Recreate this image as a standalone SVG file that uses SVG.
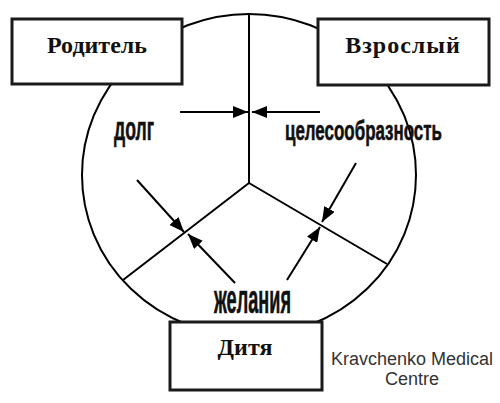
<svg xmlns="http://www.w3.org/2000/svg" width="500" height="403" viewBox="0 0 500 403">
<style>
.box{fill:#fff;stroke:#1a1a1a;stroke-width:3}
.ln{fill:none;stroke:#000;stroke-width:2}
.ar{fill:none;stroke:#000;stroke-width:2;marker-end:url(#ah)}
.bt{font-family:"Liberation Serif",serif;font-weight:bold;font-size:24px;fill:#111;text-anchor:middle}
.lb{font-family:"Liberation Sans",Arial,sans-serif;font-weight:bold;fill:#111;stroke:#111;stroke-width:0.6}
.cr{font-family:"Liberation Sans",Arial,sans-serif;font-size:18px;fill:#333;text-anchor:middle}
</style>
<defs>
<marker id="ah" markerUnits="userSpaceOnUse" markerWidth="16" markerHeight="12" refX="15" refY="6" orient="auto">
<path d="M0,0 L15,6 L0,12 z" fill="#000"/>
</marker>
</defs>
<g id="circle">
<ellipse cx="249" cy="175" rx="167" ry="161" class="ln"/>
<path d="M249,14 L249,183 M249,183 L123,280 M249,183 L387,264" class="ln"/>
</g>
<g id="connectors">
<line x1="180" y1="112" x2="248" y2="112" class="ar"/>
<line x1="320" y1="112" x2="252" y2="112" class="ar"/>
<line x1="137" y1="180" x2="184" y2="232" class="ar"/>
<line x1="235" y1="283" x2="188" y2="234" class="ar"/>
<line x1="356" y1="163" x2="322" y2="222" class="ar"/>
<line x1="287" y1="280" x2="320" y2="227" class="ar"/>
</g>
<g id="parent">
<rect x="12" y="19" width="170" height="65" class="box"/>
<text x="97" y="53" class="bt">Родитель</text>
</g>
<g id="adult">
<rect x="318" y="19" width="171" height="66" class="box"/>
<text x="403" y="53" class="bt" letter-spacing="1">Взрослый</text>
</g>
<g id="child">
<rect x="170" y="322" width="152" height="68" class="box"/>
<text x="245" y="355" class="bt">Дитя</text>
</g>
<g id="labels">
<text x="114" y="140" class="lb" font-size="34" textLength="40" lengthAdjust="spacingAndGlyphs">долг</text>
<text x="285" y="140" class="lb" font-size="28" textLength="157" lengthAdjust="spacingAndGlyphs">целесообразность</text>
<text x="214" y="313" class="lb" font-size="40" textLength="77" lengthAdjust="spacingAndGlyphs">желания</text>
</g>
<g id="credit">
<text x="412" y="365" class="cr">Kravchenko Medical</text>
<text x="412" y="385" class="cr">Centre</text>
</g>
</svg>
